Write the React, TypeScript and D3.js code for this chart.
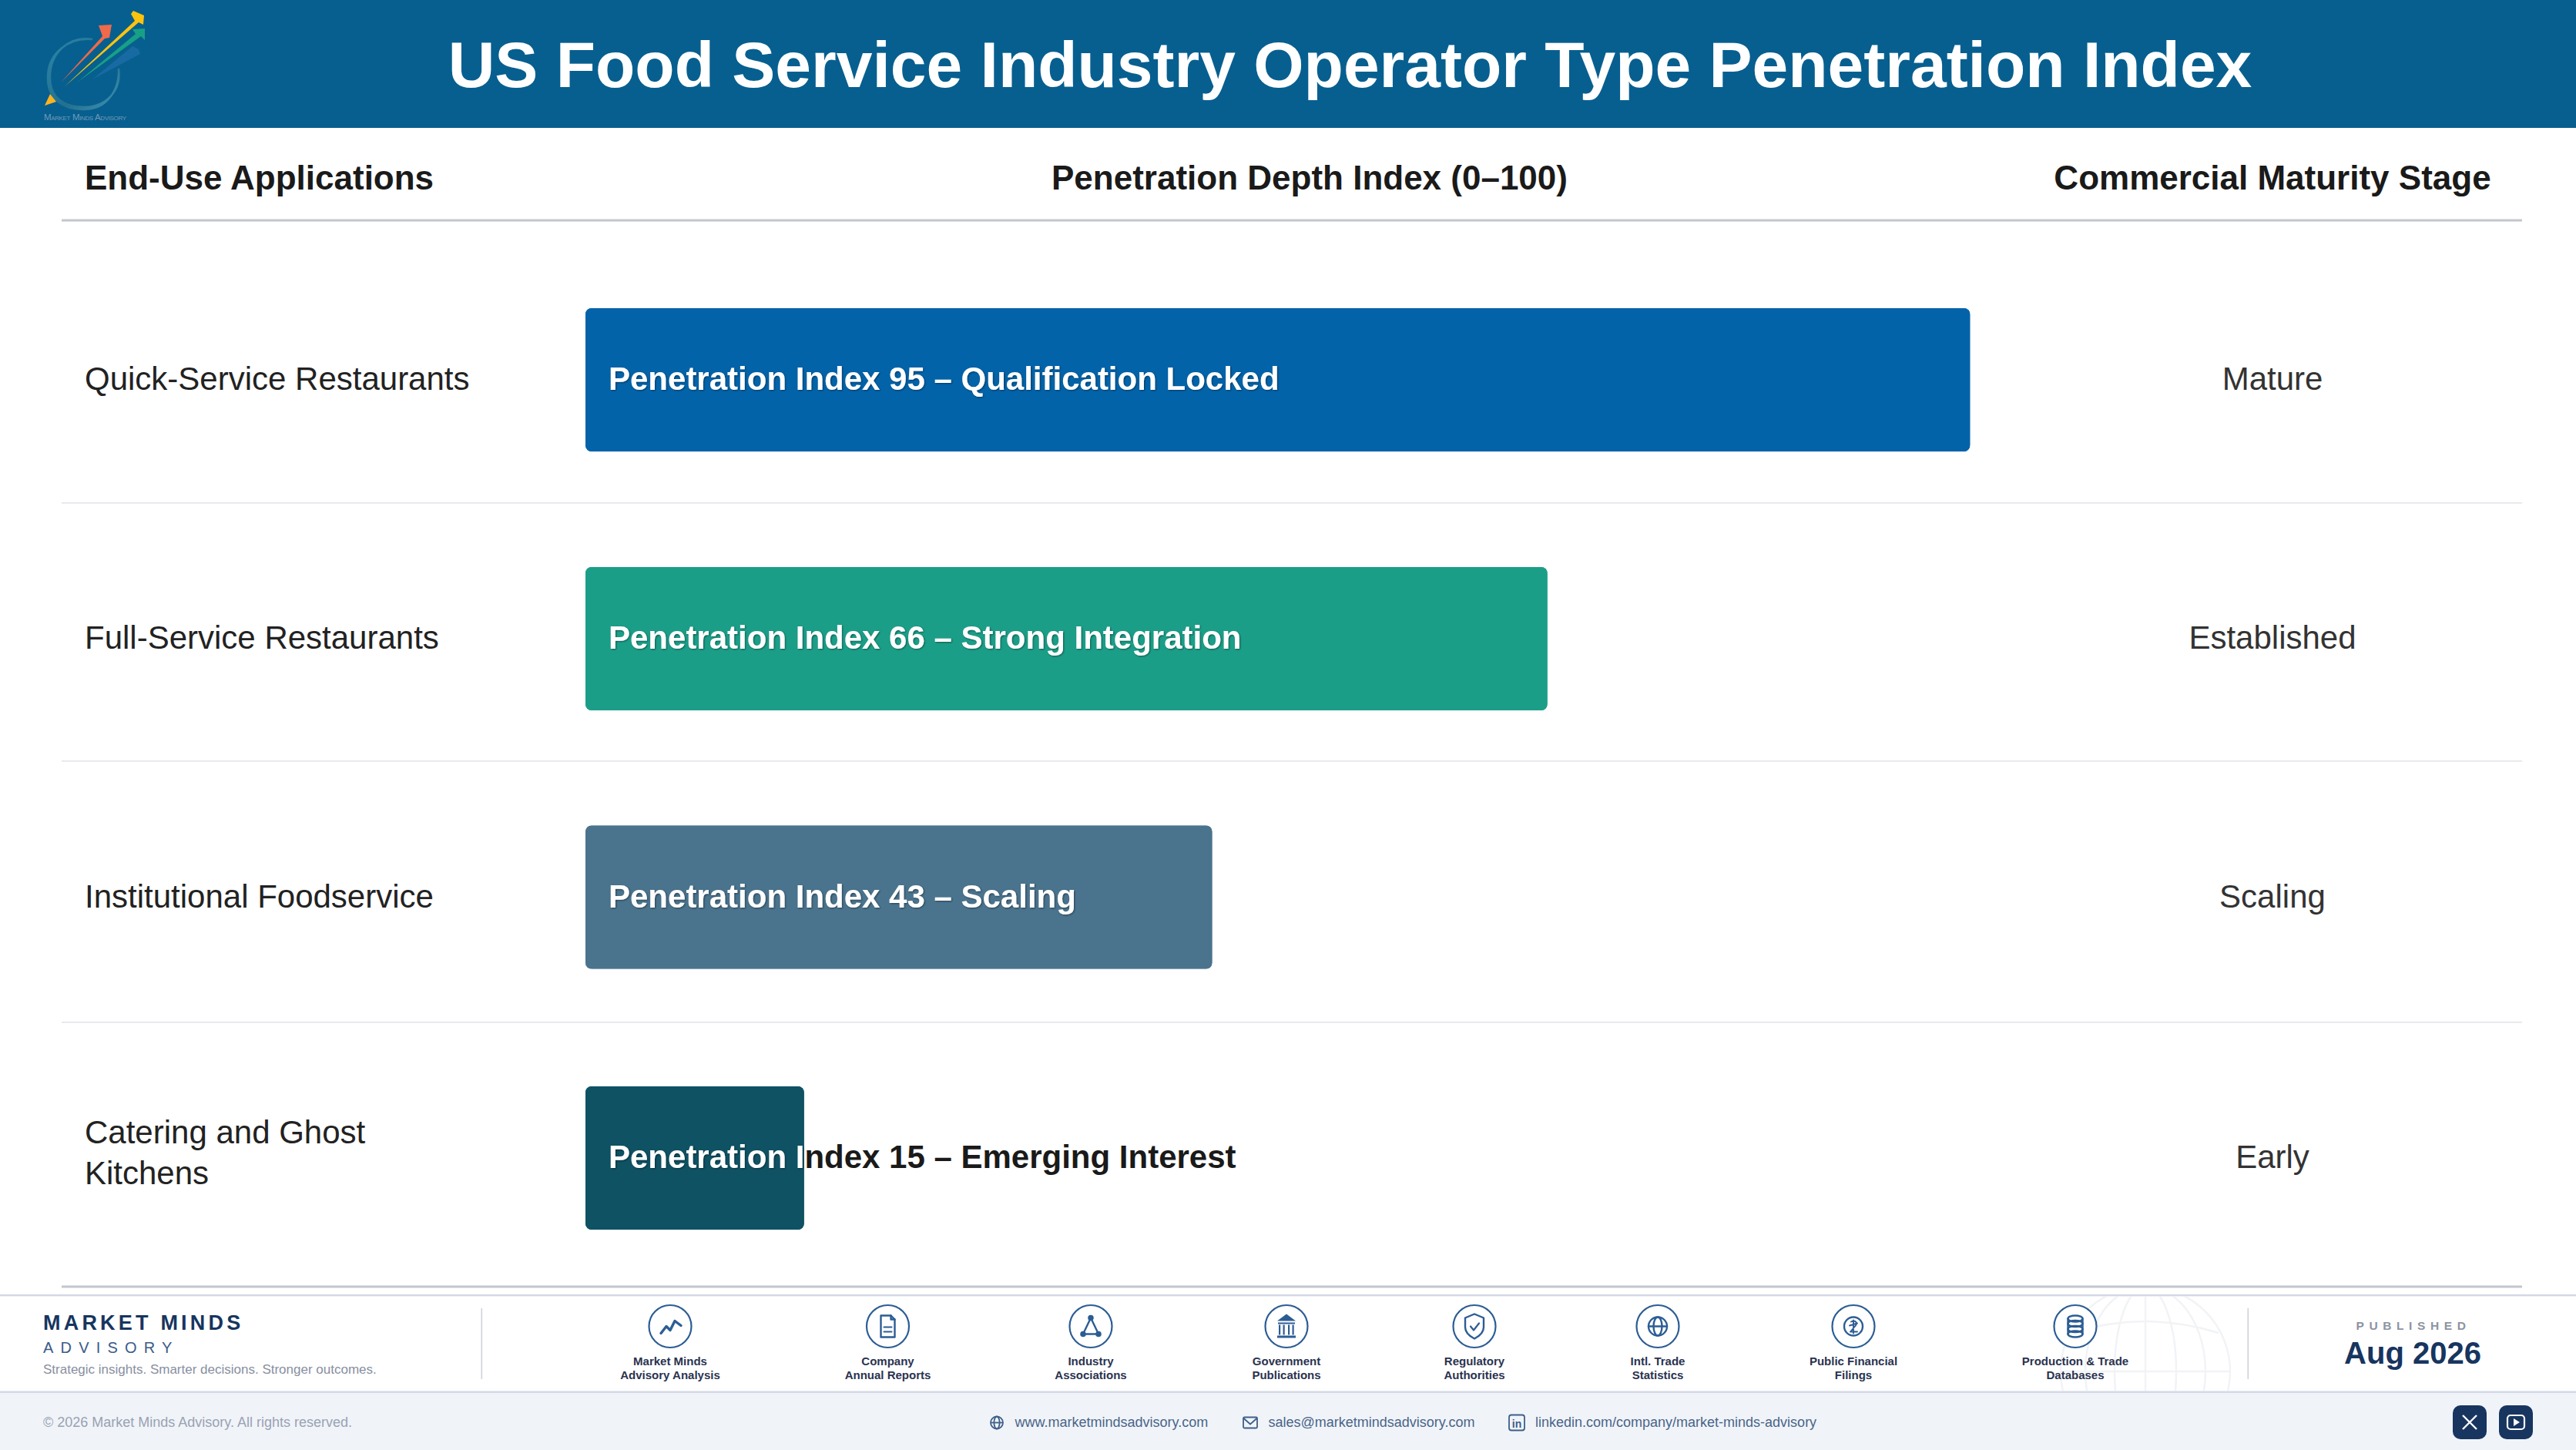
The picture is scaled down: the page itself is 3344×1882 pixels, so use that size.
import React from "react";
import * as d3 from "d3";

const W = 3344, H = 1882;
const FONT = "'Liberation Sans', Arial, sans-serif";

const title = "US Food Service Industry Operator Type Penetration Index";
const columnHeads = ["End-Use Applications", "Penetration Depth Index (0–100)", "Commercial Maturity Stage"];
const categories = ["Quick-Service Restaurants", "Full-Service Restaurants", "Institutional Foodservice", "Catering and Ghost Kitchens"];
const categoryLines = [["Quick-Service Restaurants"], ["Full-Service Restaurants"], ["Institutional Foodservice"], ["Catering and Ghost", "Kitchens"]];
const indexValues = [95, 66, 43, 15];
const stageLabels = ["Qualification Locked", "Strong Integration", "Scaling", "Emerging Interest"];
const maturity = ["Mature", "Established", "Scaling", "Early"];
const barColors = ["#0363a9", "#1b9e88", "#4a738d", "#0e5264"];

const sourceLabels = [
  ["Market Minds", "Advisory Analysis"],
  ["Company", "Annual Reports"],
  ["Industry", "Associations"],
  ["Government", "Publications"],
  ["Regulatory", "Authorities"],
  ["Intl. Trade", "Statistics"],
  ["Public Financial", "Filings"],
  ["Production & Trade", "Databases"],
];
const sourceCenters = [870, 1152.5, 1416, 1670, 1914, 2152, 2406, 2694];
const rowCenters = [493, 829, 1164.5, 1503];

const x = d3.scaleLinear().domain([0, 100]).range([760, 2652]);
const rowY = d3.scaleOrdinal<string, number>().domain(categories).range(rowCenters);
const BAR_H = 186;

const ICON = "#2c5d94";

function SourceIcon({ i }: { i: number }) {
  const common = { fill: "none", stroke: ICON, strokeWidth: 2.4, strokeLinejoin: "round" as const, strokeLinecap: "round" as const };
  switch (i) {
    case 0:
      return <path {...common} strokeWidth={3.4} d="M-12 9 L-5 0 L0 5 L6 -7 L14 -1" />;
    case 1:
      return (
        <g {...common}>
          <path d="M-9 -14 H4 L9 -9 V14 H-9 Z" />
          <path d="M4 -14 V-9 H9" />
          <path d="M-5 1 H5 M-5 7 H5" strokeWidth={2} />
        </g>
      );
    case 2:
      return (
        <g {...common}>
          <path d="M0 -11 L-10 10 H10 Z" />
          <circle cx={0} cy={-11} r={2.6} fill={ICON} />
          <circle cx={-10} cy={10} r={2.6} fill={ICON} />
          <circle cx={10} cy={10} r={2.6} fill={ICON} />
        </g>
      );
    case 3:
      return (
        <g fill={ICON}>
          <path d="M0 -16 L12 -7 H-12 Z" />
          <rect x={-11} y={-5} width={22} height={2} />
          <rect x={-10} y={-2} width={2.2} height={13} />
          <rect x={-4.5} y={-2} width={2.2} height={13} />
          <rect x={2} y={-2} width={2.2} height={13} />
          <rect x={7.5} y={-2} width={2.2} height={13} />
          <rect x={-12} y={12} width={24} height={3} />
        </g>
      );
    case 4:
      return (
        <g {...common}>
          <path d="M0 -16 L12 -11 V1 C12 8 6 13 0 16 C-6 13 -12 8 -12 1 V-11 Z" />
          <path d="M-5 0 L-1 5 L6 -4" strokeWidth={2.2} />
        </g>
      );
    case 5:
      return (
        <g {...common}>
          <circle r={12} />
          <ellipse rx={5.5} ry={12} />
          <path d="M-12 0 H12" />
        </g>
      );
    case 6:
      return (
        <g {...common}>
          <circle r={12} />
          <path d="M-3 -6 C3 -9 6 -4 2 0 L-4 7 H5 M0 -8 V9 M-5 -1 L5 -4" strokeWidth={1.9} />
        </g>
      );
    default:
      return (
        <g {...common}>
          <ellipse cy={-10} rx={9.5} ry={4} />
          <ellipse cy={-3.5} rx={9.5} ry={4} />
          <ellipse cy={3.5} rx={9.5} ry={4} />
          <ellipse cy={10} rx={9.5} ry={4} />
          <path d="M-9.5 -10 V10 M9.5 -10 V10" />
        </g>
      );
  }
}

function Logo() {
  return (
    <g>
      <defs>
        <linearGradient id="ring" x1="0" y1="0" x2="1" y2="1">
          <stop offset="0" stopColor="#2b85a8" />
          <stop offset="0.6" stopColor="#23708f" />
          <stop offset="1" stopColor="#3f93b5" />
        </linearGradient>
      </defs>
      <path d="M120 51 C88 46 65 70 65 100 C65 128 84 139 110 139 C138 138 158 118 154 89 C155 118 138 142 110 142 C82 143 61 128 62 100 C62 70 88 48 120 51 Z" fill="url(#ring)" stroke="url(#ring)" strokeWidth={2.4} />
      <path d="M120 103 L172 60 L180 64 L182 70 Z" fill="#1f6fa8" opacity={0.75} />
      <path d="M100 107 L176 44 L172 38 L188 37 L188 52 L183 47 Z" fill="#17a085" />
      <path d="M79 107 L133 47 L128 33 L145 32 L142 49 L136 50 Z" fill="#ef6a4a" />
      <path d="M83 113 L175 27 L170 18 L173 14 L187 20 L186 32 L180 29 Z" fill="#fcc30f" />
      <path d="M65 122 L73 132 L58 137 Z" fill="#fbb321" />
      <text x={57} y={156} fontFamily={FONT} fontSize={11.5} fill="#6f9ab8" style={{ fontVariant: "small-caps" }} textLength={107}>Market Minds Advisory</text>
    </g>
  );
}

export default function App() {
  return (
    <svg width={W} height={H} viewBox={`0 0 ${W} ${H}`} style={{ position: "absolute", left: 0, top: 0, display: "block", background: "#fff" }} fontFamily={FONT}>
      <defs>
        <filter id="txtShadow" x="-5%" y="-20%" width="110%" height="140%">
          <feDropShadow dx={1} dy={1} stdDeviation={1.2} floodColor="#000" floodOpacity={0.45} />
        </filter>
        {categories.map((c, i) => (
          <clipPath id={`barClip${i}`} key={c}>
            <rect x={x(0)} y={rowY(c) - BAR_H / 2} width={x(indexValues[i]) - x(0)} height={BAR_H} rx={8} />
          </clipPath>
        ))}
        <clipPath id="globeClip"><rect x={2600} y={1683} width={400} height={122} /></clipPath>
      </defs>

      {/* header band */}
      <rect x={0} y={0} width={W} height={166} fill="#075f8f" />
      <Logo />
      <text x={1752.5} y={113} textAnchor="middle" fontSize={84} fontWeight={700} fill="#fff">{title}</text>

      {/* column heads */}
      <text x={110} y={246} fontSize={44} fontWeight={700} fill="#1a1a1a">{columnHeads[0]}</text>
      <text x={1700} y={246} textAnchor="middle" fontSize={44} fontWeight={700} fill="#1a1a1a">{columnHeads[1]}</text>
      <text x={2950} y={246} textAnchor="middle" fontSize={44} fontWeight={700} fill="#1a1a1a">{columnHeads[2]}</text>
      <rect x={80} y={284.5} width={3194} height={3} fill="#c4c6cf" />

      {/* row separators */}
      {[652, 987, 1326].map((y) => (
        <rect key={y} x={80} y={y} width={3194} height={1.6} fill="#e3e5ea" />
      ))}
      <rect x={80} y={1668.5} width={3194} height={3} fill="#c4c6cf" />

      {/* rows */}
      {categories.map((c, i) => {
        const cy = rowY(c);
        const label = `Penetration Index ${indexValues[i]} – ${stageLabels[i]}`;
        const lines = categoryLines[i];
        return (
          <g key={c}>
            {lines.map((t, k) => (
              <text key={t} x={110} y={cy + 13 + (lines.length > 1 ? -6 : 0) + (k - (lines.length - 1) / 2) * 53} fontSize={42} fill="#222">{t}</text>
            ))}
            <rect x={x(0)} y={cy - BAR_H / 2} width={x(indexValues[i]) - x(0)} height={BAR_H} rx={8} fill={barColors[i]} />
            <text x={x(0) + 30} y={cy + 13} fontSize={42} fontWeight={700} fill="#1a1a1a">{label}</text>
            <g clipPath={`url(#barClip${i})`}>
              <rect x={x(0)} y={cy - BAR_H / 2} width={x(indexValues[i]) - x(0)} height={BAR_H} fill={barColors[i]} />
              <text x={x(0) + 30} y={cy + 13} fontSize={42} fontWeight={700} fill="#fff" filter="url(#txtShadow)">{label}</text>
            </g>
            <text x={2950} y={cy + 13} textAnchor="middle" fontSize={42} fill="#333">{maturity[i]}</text>
          </g>
        );
      })}

      {/* footer */}
      <rect x={0} y={1806} width={W} height={76} fill="#f0f4f9" />
      <g clipPath="url(#globeClip)" fill="none" stroke="#f1f3f6" strokeWidth={2.5}>
        <circle cx={2785} cy={1780} r={110} />
        <ellipse cx={2785} cy={1780} rx={40} ry={110} />
        <ellipse cx={2785} cy={1780} rx={78} ry={110} />
        <path d="M2675 1780 H2895" />
        <path d="M2690 1730 Q2785 1700 2880 1730" />
        <path d="M2785 1670 V1890" />
      </g>
      <rect x={0} y={1680} width={W} height={2.4} fill="#d3d7e5" />
      <rect x={0} y={1805.5} width={W} height={2.4} fill="#d3d7e5" />

      <text x={56} y={1726} fontSize={27} fontWeight={700} fill="#17355f" letterSpacing={4.2}>MARKET MINDS</text>
      <text x={56} y={1756} fontSize={20} fill="#3b5b88" letterSpacing={9.2}>ADVISORY</text>
      <text x={56} y={1783} fontSize={17} fill="#888f9f">Strategic insights. Smarter decisions. Stronger outcomes.</text>
      <rect x={624.5} y={1698} width={1.6} height={92} fill="#cfd2da" />
      <rect x={2917.5} y={1698} width={1.6} height={92} fill="#cfd2da" />

      {sourceLabels.map((lines, i) => (
        <g key={lines[0]}>
          <g transform={`translate(${sourceCenters[i]},1721.5)`}>
            <circle r={27.5} fill="#fff" stroke={ICON} strokeWidth={2.2} />
            <SourceIcon i={i} />
          </g>
          {lines.map((t, k) => (
            <text key={t} x={sourceCenters[i]} y={1772 + k * 18} textAnchor="middle" fontSize={15} fontWeight={700} fill="#2a3350">{t}</text>
          ))}
        </g>
      ))}

      <text x={3133} y={1726} textAnchor="middle" fontSize={15.5} fontWeight={700} fill="#8d93a2" letterSpacing={6.6}>PUBLISHED</text>
      <text x={3132} y={1770} textAnchor="middle" fontSize={40} fontWeight={700} fill="#17355f">Aug 2026</text>

      <text x={56} y={1852} fontSize={18} fill="#9aa2b3">© 2026 Market Minds Advisory. All rights reserved.</text>

      <g transform="translate(1294,1846.5)" fill="none" stroke="#3f5f88" strokeWidth={1.8}>
        <circle r={8} />
        <ellipse rx={3.6} ry={8} />
        <path d="M-8 0 H8" />
      </g>
      <text x={1317.5} y={1852} fontSize={18} fill="#4a6488">www.marketmindsadvisory.com</text>
      <g transform="translate(1623,1846.5)" fill="none" stroke="#3f5f88" strokeWidth={1.8}>
        <rect x={-9} y={-7} width={18} height={14} rx={1.5} />
        <path d="M-9 -6 L0 2 L9 -6" />
      </g>
      <text x={1646.5} y={1852} fontSize={18} fill="#4a6488">sales@marketmindsadvisory.com</text>
      <g transform="translate(1969,1846.5)">
        <rect x={-10} y={-10} width={20} height={20} rx={3} fill="none" stroke="#3f5f88" strokeWidth={1.8} />
        <text x={0} y={6} textAnchor="middle" fontSize={14} fontWeight={700} fill="#3f5f88">in</text>
      </g>
      <text x={1993} y={1852} fontSize={18} fill="#4a6488">linkedin.com/company/market-minds-advisory</text>

      <rect x={3184} y={1824} width={44} height={44} rx={10} fill="#17355f" />
      <path d="M3197 1837 L3215 1855 M3215 1837 L3197 1855" stroke="#fff" strokeWidth={2.4} fill="none" />
      <rect x={3244} y={1824} width={44} height={44} rx={10} fill="#17355f" />
      <rect x={3255} y={1837} width={22} height={18} rx={4} fill="none" stroke="#fff" strokeWidth={2.2} />
      <path d="M3263 1841 L3271 1846 L3263 1851 Z" fill="#fff" />
    </svg>
  );
}
